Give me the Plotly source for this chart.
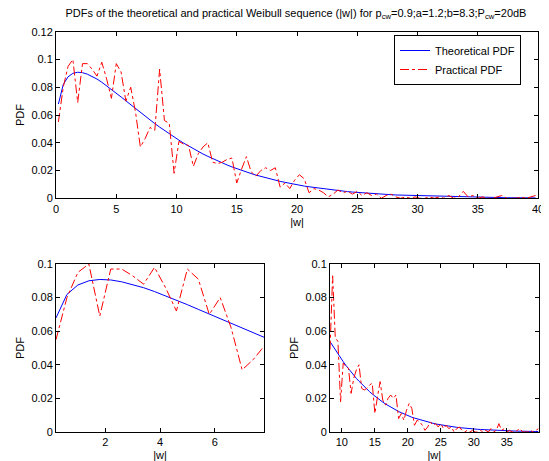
#!/bin/env python

import plotly.graph_objects as go

# ------------------------------------------------------------------------------

# Bin centres of |w| (0.2, 0.6, ... 39.8)
w = [round(0.2 + 0.4 * i, 1) for i in range(100)]

# Theoretical PDF
pdf_theory = [
    0.0679, 0.0819, 0.0875, 0.0900, 0.0908, 0.0905, 0.0894, 0.0878, 0.0859, 0.0836,
    0.0811, 0.0785, 0.0758, 0.0730, 0.0702, 0.0674, 0.0646, 0.0618, 0.0591, 0.0564,
    0.0538, 0.0513, 0.0488, 0.0464, 0.0441, 0.0419, 0.0397, 0.0376, 0.0357, 0.0337,
    0.0319, 0.0302, 0.0285, 0.0269, 0.0254, 0.0240, 0.0226, 0.0213, 0.0200, 0.0189,
    0.0178, 0.0167, 0.0157, 0.0147, 0.0139, 0.0130, 0.0122, 0.0115, 0.0107, 0.0101,
    0.0094, 0.0088, 0.0083, 0.0078, 0.0073, 0.0068, 0.0063, 0.0059, 0.0055, 0.0052,
    0.0048, 0.0045, 0.0042, 0.0039, 0.0037, 0.0034, 0.0032, 0.0030, 0.0028, 0.0026,
    0.0024, 0.0023, 0.0021, 0.0020, 0.0018, 0.0017, 0.0016, 0.0015, 0.0014, 0.0013,
    0.0012, 0.0011, 0.0010, 0.0009, 0.0009, 0.0008, 0.0008, 0.0007, 0.0007, 0.0006,
    0.0006, 0.0005, 0.0005, 0.0004, 0.0004, 0.0004, 0.0004, 0.0003, 0.0003, 0.0003,
]

# Practical PDF
pdf_practical = [
    0.055, 0.080, 0.095, 0.100, 0.069, 0.097, 0.097, 0.093, 0.088, 0.098,
    0.086, 0.072, 0.097, 0.091, 0.070, 0.080, 0.062, 0.037, 0.043, 0.051,
    0.049, 0.093, 0.056, 0.054, 0.018, 0.041, 0.039, 0.038, 0.023, 0.032,
    0.037, 0.040, 0.026, 0.025, 0.026, 0.028, 0.029, 0.011, 0.021, 0.030,
    0.019, 0.016, 0.020, 0.022, 0.020, 0.022, 0.008, 0.011, 0.007, 0.013,
    0.017, 0.014, 0.004, 0.007, 0.006, 0.004, 0.001, 0.003, 0.006, 0.004,
    0.005, 0.003, 0.005, 0.002, 0.004, 0.002, 0.003, 0.000, 0.002, 0.003,
    0.001, 0.000, 0.001, 0.000, 0.001, 0.000, 0.000, 0.001, 0.000, 0.001,
    0.000, 0.002, 0.000, 0.001, 0.005, 0.001, 0.002, 0.000, 0.001, 0.000,
    0.000, 0.001, 0.002, 0.000, 0.000, 0.000, 0.001, 0.000, 0.001, 0.002,
]

# Split point between the two zoomed panels
SPLIT = 20

TITLE = ("PDFs of the theoretical and practical Weibull sequence (|w|) for "
         "p<sub>cw</sub>=0.9;a=1.2;b=8.3;P<sub>cw</sub>=20dB")

FONT = "Liberation Sans, Arial, sans-serif"

# The page body keeps its default 8px margin, so the figure is drawn
# 8px smaller and every window position is shifted by that much.
PAGE = 8
W, H = 549 - PAGE, 461 - PAGE

def fx(px):
    return (px - PAGE) / W

def fy(py):
    return 1 - (py - PAGE) / H

# ------------------------------------------------------------------------------

fig = go.Figure()

panels = [
    ("x", "y", slice(0, 100), True),
    ("x2", "y2", slice(0, SPLIT), False),
    ("x3", "y3", slice(SPLIT, 100), False),
]

for xa, ya, sl, legend in panels:
    fig.add_trace(go.Scatter(x=w[sl], y=pdf_theory[sl], mode="lines",
        line=dict(color="#0000ff", width=1), name="Theoretical PDF",
        showlegend=legend, xaxis=xa, yaxis=ya))
    fig.add_trace(go.Scatter(x=w[sl], y=pdf_practical[sl], mode="lines",
        line=dict(color="#ff0000", width=1, dash="dashdot"), name="Practical PDF",
        showlegend=legend, xaxis=xa, yaxis=ya))

axis_style = dict(showline=True, linecolor="black", linewidth=1, mirror="ticks",
    ticks="inside", ticklen=4, tickcolor="black", showgrid=False, zeroline=False,
    automargin=False,
    tickfont=dict(size=11, color="black"), title_font=dict(size=11, color="black"),
    title_standoff=4)

fig.update_layout(
    width=W, height=H,
    margin=dict(l=0, r=0, t=0, b=0),
    paper_bgcolor="white", plot_bgcolor="white",
    font=dict(family=FONT, size=11, color="black"),
    title=dict(text=TITLE, x=fx(296), xanchor="center", y=fy(13),
        yanchor="middle", font=dict(size=11)),
    xaxis=dict(domain=[fx(56), fx(538)], anchor="y", range=[0, 40],
        tickvals=list(range(0, 41, 5)), title_text="|w|", **axis_style),
    yaxis=dict(domain=[fy(198.3), fy(31.7)], anchor="x", range=[0, 0.12],
        tickvals=[0, 0.02, 0.04, 0.06, 0.08, 0.1, 0.12], title_text="PDF", **axis_style),
    xaxis2=dict(domain=[fx(56), fx(264)], anchor="y2", range=[0.2, 7.8],
        tickvals=[2, 4, 6], title_text="|w|", **axis_style),
    yaxis2=dict(domain=[fy(432), fy(264)], anchor="x2", range=[0, 0.1],
        tickvals=[0, 0.02, 0.04, 0.06, 0.08, 0.1], title_text="PDF", **axis_style),
    xaxis3=dict(domain=[fx(330), fx(538.5)], anchor="y3", range=[8.2, 39.8],
        tickvals=[10, 15, 20, 25, 30, 35], title_text="|w|", **axis_style),
    yaxis3=dict(domain=[fy(432), fy(264)], anchor="x3", range=[0, 0.1],
        tickvals=[0, 0.02, 0.04, 0.06, 0.08, 0.1], title_text="PDF", **axis_style),
    legend=dict(x=fx(394), y=fy(35), xanchor="left", yanchor="top",
        bgcolor="white", bordercolor="black", borderwidth=1,
        font=dict(size=11), tracegroupgap=0, itemwidth=30),
)

fig.write_html("out.html")
